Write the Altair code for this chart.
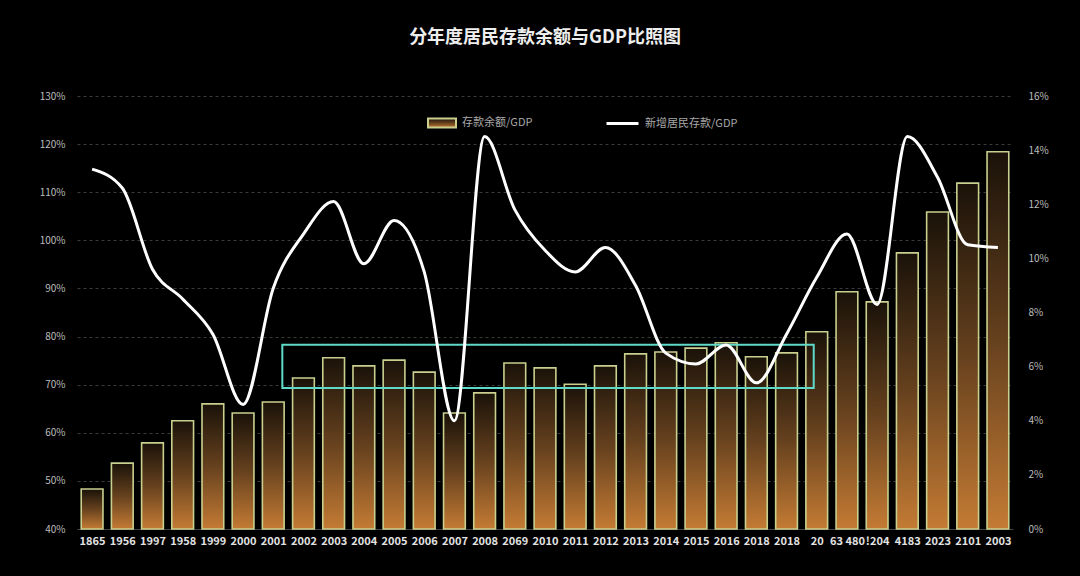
import altair as alt
import pandas as pd

# ---- data ----
x_labels = ["1865", "1956", "1997", "1958", "1999", "2000", "2001", "2002", "2003", "2004",
            "2005", "2006", "2007", "2008", "2069", "2010", "2011", "2012", "2013", "2014",
            "2015", "2016", "2018", "2018", "20", "63 480", "!204", "4183", "2023", "2101", "2003"]
deposit_gdp = [48.3, 53.7, 57.9, 62.5, 66.0, 64.1, 66.4, 71.4, 75.6, 73.9,
               75.1, 72.6, 64.1, 68.3, 74.5, 73.5, 70.1, 73.9, 76.4, 76.8,
               77.6, 78.7, 75.8, 76.6, 81.0, 89.3, 87.2, 97.4, 105.9, 111.9, 118.4]
new_deposit_gdp = [13.3, 12.6, 9.6, 8.5, 7.2, 4.6, 8.9, 10.9, 12.1, 9.8,
                   11.4, 9.5, 4.0, 14.5, 11.8, 10.3, 9.5, 10.4, 9.0, 6.5,
                   6.1, 6.8, 5.4, 7.2, 9.3, 10.9, 8.3, 14.5, 13.0, 10.5, 10.4]
left_ticks = [40, 50, 60, 70, 80, 90, 100, 110, 120, 130]
right_ticks = [0, 2, 4, 6, 8, 10, 12, 14, 16]
# highlighted band (category index range and left-axis value range)
hl_x_start = [6.3]
hl_x_end = [23.9]
hl_y_low = [69.3]
hl_y_high = [78.3]

series_bar = "存款余额/GDP"
series_line = "新增居民存款/GDP"
title = "分年度居民存款余额与GDP比照图"

FONT = "Noto Sans CJK SC"

df = pd.DataFrame({
    "idx": list(range(len(x_labels))),
    "label": x_labels,
    "deposit": deposit_gdp,
    "newdep": new_deposit_gdp,
    "s_bar": series_bar,
    "s_line": series_line,
})
hl = pd.DataFrame({"x0": hl_x_start, "x1": hl_x_end, "y0": hl_y_low, "y1": hl_y_high})

label_expr = "[" + ",".join("'" + l + "'" for l in x_labels) + "][round(datum.value)]"

x_scale = alt.Scale(domain=[-0.5, len(x_labels) - 0.5], nice=False, zero=False)


def make_x_axis():
    return alt.Axis(values=list(range(len(x_labels))), labelExpr=label_expr, title=None,
                    labelAngle=0, labelColor="#e2e2e2", labelFontSize=11, labelFontWeight="bold",
                    labelFont=FONT, ticks=False, grid=False, domain=True, domainColor="#444",
                    labelPadding=6, labelOverlap=False, labelFlush=False, labelBound=False,
                    labelSeparation=0)


left_scale = alt.Scale(domain=[40, 130], nice=False, zero=False)


def make_left_axis():
    return alt.Axis(values=left_ticks, labelExpr="datum.value + '%'", title=None,
                    labelColor="#bdbdbd", labelFontSize=10, labelFont=FONT, ticks=False,
                    domain=False, grid=True, gridColor="#3a3a3a", gridDash=[3, 3],
                    gridWidth=1, labelPadding=12)


gradient = {
    "gradient": "linear",
    "x1": 0, "y1": 0, "x2": 0, "y2": 1,
    "stops": [
        {"offset": 0, "color": "#1a1209"},
        {"offset": 0.5, "color": "#66411e"},
        {"offset": 1, "color": "#c47b34"},
    ],
}

bars = alt.Chart(df).transform_calculate(
    xa="datum.idx - 0.36", xb="datum.idx + 0.36"
).mark_bar(fill=gradient, strokeWidth=1.6).encode(
    x=alt.X("xa:Q", scale=x_scale, axis=make_x_axis()),
    x2="xb:Q",
    y=alt.Y("deposit:Q", scale=left_scale, axis=make_left_axis()),
    y2=alt.datum(40),
    stroke=alt.Stroke("s_bar:N", scale=alt.Scale(domain=[series_bar], range=["#c9d08e"]),
                      legend=alt.Legend(title=None, orient="none", legendX=350, legendY=12,
                                        symbolType="M-1,-0.33H1V0.33H-1Z", symbolSize=784,
                                        symbolFillColor="#2a2212", symbolStrokeWidth=2,
                                        labelColor="#a8a8a8", labelFontSize=11, labelFont=FONT,
                                        labelOffset=5)),
)

rect = alt.Chart(hl).mark_rect(fillOpacity=0, stroke="#5fd9c8", strokeWidth=2).encode(
    x=alt.X("x0:Q", scale=x_scale, axis=make_x_axis()),
    x2="x1:Q",
    y=alt.Y("y0:Q", scale=left_scale, axis=make_left_axis()),
    y2="y1:Q",
)

line = alt.Chart(df).mark_line(interpolate="monotone", strokeWidth=3).encode(
    x=alt.X("idx:Q", scale=x_scale, axis=make_x_axis()),
    y=alt.Y("newdep:Q", scale=alt.Scale(domain=[0, 16], nice=False, zero=True),
            axis=alt.Axis(orient="right", values=right_ticks, labelExpr="datum.value + '%'",
                          title=None, labelColor="#bdbdbd", labelFontSize=10, labelFont=FONT,
                          ticks=False, domain=False, grid=False, labelPadding=15)),
    stroke=alt.Stroke("s_line:N", scale=alt.Scale(domain=[series_line], range=["#ffffff"]),
                      legend=alt.Legend(title=None, orient="none", legendX=528, legendY=10,
                                        symbolType="stroke", symbolSize=1024,
                                        symbolStrokeWidth=3, labelColor="#a8a8a8",
                                        labelFontSize=11, labelFont=FONT, labelOffset=5)),
)

left = alt.layer(bars, rect)
chart = alt.layer(left, line).resolve_scale(
    y="independent", stroke="independent"
).properties(
    width=936,
    height=433,
    background="#000000",
    padding={"left": 77, "top": 96, "right": 67, "bottom": 47},
    autosize=alt.AutoSizeParams(type="none"),
    title=alt.TitleParams(title, color="#eeeeee", fontSize=18, fontWeight="bold",
                          font=FONT, anchor="middle", offset=44),
).configure_view(stroke=None)

chart.save("out.html", embed_options={"renderer": "svg", "actions": False})
